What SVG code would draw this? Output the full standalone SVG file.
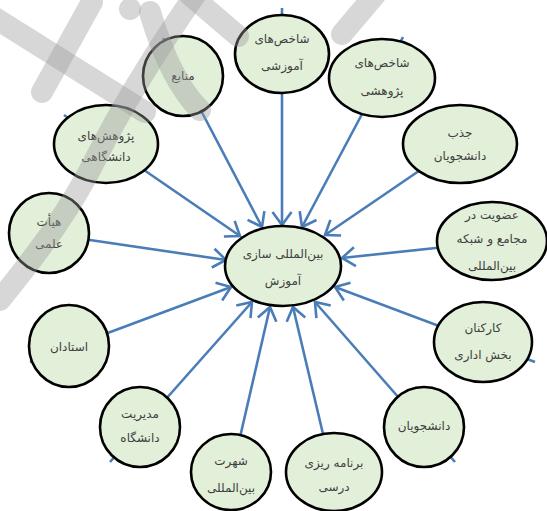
<svg xmlns="http://www.w3.org/2000/svg" width="547" height="511" viewBox="0 0 547 511">
<defs>
<style>
.n{fill:#e2efd9;stroke:#000;stroke-width:2.6}
.t{font-family:"DejaVu Sans",sans-serif;font-size:12px;fill:#3f3f3f;text-anchor:middle}
.c{fill:none;stroke:#4a7db7;stroke-width:2.6}
.w{fill:none;stroke:#9a9a9a;stroke-width:22;stroke-linecap:round;opacity:0.4}
</style>
<marker id="arr" markerUnits="userSpaceOnUse" viewBox="-16 -12 18 24" refX="0" refY="0" markerWidth="18" markerHeight="24" orient="auto" overflow="visible">
<path d="M-13,-9.5 L0,0 L-13,9.5" fill="none" stroke="#4a7db7" stroke-width="2.6"/>
</marker>
</defs>
<rect width="547" height="511" fill="#fff"/>
<g id="connectors">
<line class="c" x1="163" y1="38" x2="262" y2="227" marker-end="url(#arr)"/>
<line class="c" x1="282" y1="8" x2="282" y2="225" marker-end="url(#arr)"/>
<line class="c" x1="403" y1="37" x2="302" y2="227" marker-end="url(#arr)"/>
<line class="c" x1="501" y1="115" x2="325" y2="235" marker-end="url(#arr)"/>
<line class="c" x1="64" y1="115" x2="240" y2="236" marker-end="url(#arr)"/>
<line class="c" x1="49" y1="234" x2="226" y2="260" marker-end="url(#arr)"/>
<line class="c" x1="492" y1="242" x2="342" y2="258" marker-end="url(#arr)"/>
<line class="c" x1="30" y1="362" x2="231" y2="287" marker-end="url(#arr)"/>
<line class="c" x1="535" y1="362" x2="335" y2="287" marker-end="url(#arr)"/>
<line class="c" x1="110" y1="462" x2="252" y2="302" marker-end="url(#arr)"/>
<line class="c" x1="232" y1="472" x2="270" y2="307" marker-end="url(#arr)"/>
<line class="c" x1="332" y1="472" x2="293" y2="307" marker-end="url(#arr)"/>
<line class="c" x1="455" y1="462" x2="315" y2="302" marker-end="url(#arr)"/>
</g>
<g id="center">
<ellipse class="n" cx="283" cy="266" rx="58" ry="40"/>
<text class="t" x="283" y="258">بین&#8204;المللی سازی</text>
<text class="t" x="283" y="285">آموزش</text>
</g>
<g id="n-manabe">
<ellipse class="n" cx="183" cy="76" rx="40" ry="40"/>
<text class="t" x="183" y="80">منابع</text>
</g>
<g id="n-amoozeshi">
<ellipse class="n" cx="282" cy="54" rx="47" ry="39"/>
<text class="t" x="282" y="43">شاخص&#8204;های</text>
<text class="t" x="282" y="70">آموزشی</text>
</g>
<g id="n-pajooheshi">
<ellipse class="n" cx="382" cy="78" rx="53" ry="39"/>
<text class="t" x="382" y="67">شاخص&#8204;های</text>
<text class="t" x="382" y="95">پژوهشی</text>
</g>
<g id="n-jazb">
<ellipse class="n" cx="460" cy="144" rx="57" ry="39"/>
<text class="t" x="460" y="137">جذب</text>
<text class="t" x="460" y="160">دانشجویان</text>
</g>
<g id="n-daneshgahi">
<ellipse class="n" cx="106" cy="144" rx="52" ry="39"/>
<text class="t" x="106" y="140">پژوهش&#8204;های</text>
<text class="t" x="106" y="161">دانشگاهی</text>
</g>
<g id="n-heyat">
<ellipse class="n" cx="49" cy="233" rx="40" ry="40"/>
<text class="t" x="49" y="226">هیأت</text>
<text class="t" x="49" y="248">علمی</text>
</g>
<g id="n-ostadan">
<ellipse class="n" cx="69" cy="346" rx="40" ry="41"/>
<text class="t" x="69" y="351">استادان</text>
</g>
<g id="n-modiriat">
<ellipse class="n" cx="140" cy="427" rx="40" ry="40"/>
<text class="t" x="140" y="418">مدیریت</text>
<text class="t" x="140" y="442">دانشگاه</text>
</g>
<g id="n-shohrat">
<ellipse class="n" cx="231" cy="472" rx="40" ry="38"/>
<text class="t" x="231" y="465">شهرت</text>
<text class="t" x="231" y="492">بین&#8204;المللی</text>
</g>
<g id="n-barname">
<ellipse class="n" cx="334" cy="472" rx="48" ry="39"/>
<text class="t" x="334" y="467">برنامه ریزی</text>
<text class="t" x="334" y="491">درسی</text>
</g>
<g id="n-daneshjooyan">
<ellipse class="n" cx="424" cy="427" rx="40" ry="40"/>
<text class="t" x="424" y="430">دانشجویان</text>
</g>
<g id="n-karkonan">
<ellipse class="n" cx="483" cy="342" rx="49" ry="40"/>
<text class="t" x="483" y="332">کارکنان</text>
<text class="t" x="483" y="359">بخش اداری</text>
</g>
<g id="n-ozviat">
<ellipse class="n" cx="492" cy="241" rx="55" ry="39"/>
<text class="t" x="492" y="219">عضویت در</text>
<text class="t" x="492" y="243">مجامع و شبکه</text>
<text class="t" x="492" y="270">بین&#8204;المللی</text>
</g>
<g id="watermark">
<path class="w" d="M-5,18 L145,112"/>
<path class="w" d="M42,92 L92,2"/>
<circle cx="130" cy="9" r="11" fill="#9a9a9a" opacity="0.4"/>
<path class="w" d="M150,12 Q170,80 200,110"/>
<path class="w" d="M190,-5 L238,36"/>
<path class="w" d="M342,34 L375,-5"/>
<path class="w" d="M195,-5 C150,60 120,110 95,160 C70,210 40,250 0,300"/>
</g>
</svg>
